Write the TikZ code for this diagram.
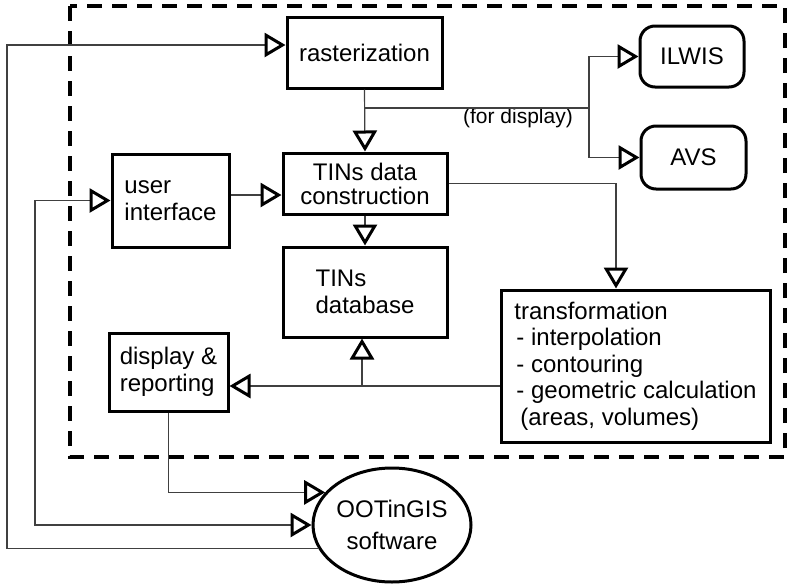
\documentclass[tikz,border=0pt]{standalone}
\usepackage{fontspec}
\setmainfont{Liberation Sans}
\usetikzlibrary{arrows.meta,shapes.geometric}

\begin{document}
\begin{tikzpicture}[
  x=1pt,y=-1pt,
  every node/.style={font=\fontsize{24}{26.5}\selectfont},
  >={Triangle[open,length=21pt,width=24pt,line width=3pt,color=black]},
  box/.style={draw,line width=3pt,inner sep=0pt,align=left},
  rbox/.style={box,align=center,rounded corners=15pt},
  ell/.style={draw,ellipse,line width=3pt,inner sep=0pt,align=center},
  conn/.style={line width=1.2pt,draw=black!75},
  arrow/.style={conn,->},
  both/.style={conn,<->},
  frame/.style={line width=4pt,dash pattern=on 15pt off 10pt},
  note/.style={font=\fontsize{21}{24}\selectfont}
]
\useasboundingbox (0,0) rectangle (788,587);
\draw[frame] (70,6) rectangle (785,457);

\node[box,align=center,minimum width=155pt,minimum height=71pt] (rast) at (364.5,52.5) {rasterization};
\node[box,align=center,minimum width=164pt,minimum height=61pt,font=\fontsize{24}{24}\selectfont] (constr) at (365,183.5) {TINs data\\construction};
\node[box,minimum width=117pt,minimum height=93pt] (ui) at (170.5,200.5) {user\\interface};
\node[box,minimum width=164pt,minimum height=90pt] (db) at (365,292) {TINs\\database};
\node[box,minimum width=119pt,minimum height=78pt] (disp) at (168.5,372) {display \&\\reporting};
\node[box,minimum width=269pt,minimum height=152pt] (trans) at (635.5,366)
  {transformation\\\hspace*{2pt}- interpolation\\\hspace*{2pt}- contouring\\\hspace*{2pt}- geometric calculation\\\hspace*{6pt}(areas, volumes)};
\node[rbox,minimum width=104pt,minimum height=61pt] (ilwis) at (692,56.5) {ILWIS};
\node[rbox,minimum width=105pt,minimum height=63pt] (avs) at (693.5,157.5) {AVS};
\node[ell,minimum width=158pt,minimum height=114pt,font=\fontsize{24}{32}\selectfont] (soft) at (392,525) {OOTinGIS\\software};
\node[note] (forDisp) at (518,118) {(for display)};

% bends of the connectors
\coordinate (lp) at (7,45);
\coordinate (ip) at (35,525);
\coordinate (ul) at (0,195);
\coordinate (fk) at (589,108);
\coordinate (tp) at (616,0);
\coordinate (jn) at (362,386);

\draw[arrow] (soft.198) -| (lp) -- (lp -| rast.west);
\draw[both] (ui.west) -| (ip) -- (soft.west);
\draw[arrow] (disp.south) |- (soft.154);
\draw[arrow] (rast.south) -- (constr.north);
\draw[conn] (fk -| rast.south) -- (fk);
\draw[arrow] (fk) |- (ilwis.west);
\draw[arrow] (fk) |- (avs.west);
\draw[arrow] (ui.east |- ul) -- (constr.west |- ul);
\draw[arrow] (constr.south) -- (db.north);
\draw[arrow] (constr.east) -| (tp |- trans.north);
\draw[arrow] (trans.west |- jn) -- (disp.east |- jn);
\draw[arrow] (jn) -- (jn |- db.south);
\end{tikzpicture}
\end{document}
